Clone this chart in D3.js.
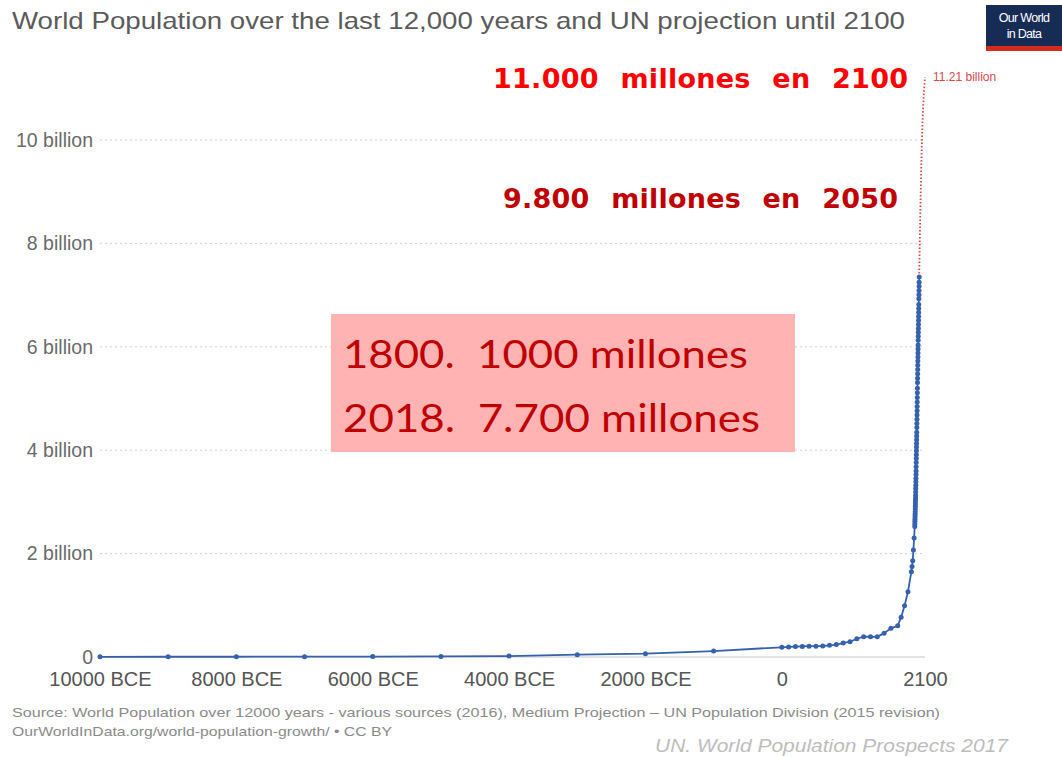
<!DOCTYPE html>
<html><head><meta charset="utf-8">
<script src="https://cdn.jsdelivr.net/npm/d3@7"></script>
<style>body{margin:0;background:#fff;overflow:hidden}</style>
</head><body><svg id="c" width="1062" height="758"></svg>
<script>
// ---- data (population in billions) ----
const histYears = [-10000,-9000,-8000,-7000,-6000,-5000,-4000,-3000,-2000,-1000,
  0,100,200,300,400,500,600,700,800,900,1000,1100,1200,1300,1400,1500,1600,1700,1750,1800,1850,
  1900,1910,1920,1930,1940,
  1950,1951,1952,1953,1954,1955,1956,1957,1958,1959,1960,1961,1962,1963,1964,1965,1966,1967,1968,1969,
  1970,1971,1972,1973,1974,1975,1976,1977,1978,1979,1980,1981,1982,1983,1984,1985,1986,1987,1988,1989,
  1990,1991,1992,1993,1994,1995,1996,1997,1998,1999,2000,2001,2002,2003,2004,2005,2006,2007,2008,2009,
  2010,2011,2012,2013,2014,2015];
const histPop = [0.004,0.005,0.005,0.007,0.009,0.012,0.018,0.045,0.064,0.115,
  0.188,0.195,0.202,0.205,0.209,0.210,0.213,0.226,0.240,0.269,0.295,0.353,0.393,0.392,0.390,0.461,0.554,0.603,0.771,0.990,1.262,
  1.650,1.750,1.860,2.070,2.300,
  2.525,2.572,2.619,2.665,2.713,2.761,2.810,2.861,2.914,2.965,3.018,3.068,3.125,3.190,3.257,3.324,3.392,3.458,3.528,3.600,
  3.682,3.761,3.838,3.913,3.987,4.061,4.132,4.203,4.275,4.349,4.439,4.517,4.598,4.680,4.761,4.846,4.933,5.021,5.110,5.199,
  5.309,5.394,5.478,5.561,5.643,5.723,5.802,5.880,5.957,6.034,6.127,6.204,6.280,6.356,6.432,6.510,6.587,6.664,6.742,6.820,
  6.930,7.009,7.089,7.169,7.248,7.349];
const projYears = [2015,2020,2025,2030,2035,2040,2045,2050,2055,2060,2065,2070,2075,2080,2085,2090,2095,2100];
const projPop = [7.349,7.758,8.142,8.501,8.839,9.157,9.454,9.725,9.968,10.184,10.375,10.547,10.700,10.836,10.952,11.048,11.129,11.213];
const xTicks = [-10000,-8000,-6000,-4000,-2000,0,2100];
const yTicks = [0,2,4,6,8,10];

const svg = d3.select("#c");
const x = d3.scaleLinear().domain([-10000,2100]).range([100,925]);
const y = d3.scaleLinear().domain([0,10]).range([657,140]);

// title
svg.append("text").attr("x",12).attr("y",29)
  .attr("font-family","Liberation Sans, Arial, sans-serif").attr("font-size",24).attr("fill","#5b5b5b")
  .attr("textLength",893).attr("lengthAdjust","spacingAndGlyphs")
  .text("World Population over the last 12,000 years and UN projection until 2100");

// logo
const logo = svg.append("g");
logo.append("rect").attr("x",986).attr("y",5).attr("width",76).attr("height",42).attr("fill","#172c55");
logo.append("rect").attr("x",986).attr("y",46).attr("width",76).attr("height",5).attr("fill","#d42b21");
logo.append("text").attr("x",1024).attr("y",22).attr("text-anchor","middle").attr("font-family","Liberation Sans, Arial, sans-serif")
  .attr("font-size",12.5).attr("fill","#fff").attr("letter-spacing",-0.7).text("Our World");
logo.append("text").attr("x",1024).attr("y",38).attr("text-anchor","middle").attr("font-family","Liberation Sans, Arial, sans-serif")
  .attr("font-size",12.5).attr("fill","#fff").attr("letter-spacing",-0.7).text("in Data");

// grid
const grid = svg.append("g");
grid.selectAll("line").data(yTicks.filter(d=>d>0)).join("line")
  .attr("x1",100).attr("x2",925).attr("y1",d=>y(d)).attr("y2",d=>y(d))
  .attr("stroke","#d0d0d0").attr("stroke-width",1).attr("stroke-dasharray","2,3");
svg.append("line").attr("x1",100).attr("x2",925).attr("y1",y(0)).attr("y2",y(0))
  .attr("stroke","#e2e2e2").attr("stroke-width",2);

// y axis
const yAxis = svg.append("g").attr("transform","translate(93,0)")
  .call(d3.axisLeft(y).tickValues(yTicks).tickSize(0).tickPadding(0)
    .tickFormat(d=> d===0 ? "0" : d+" billion"));
yAxis.select(".domain").remove();
yAxis.selectAll("text").attr("font-family","Liberation Sans, Arial, sans-serif").attr("font-size",19.5).attr("fill","#6a6a6a");

// x axis
const xAxis = svg.append("g").attr("transform","translate(0,672)")
  .call(d3.axisBottom(x).tickValues(xTicks).tickSize(0).tickPadding(0)
    .tickFormat(d=> d<0 ? (-d)+" BCE" : String(d)));
xAxis.select(".domain").remove();
xAxis.selectAll("text").attr("font-family","Liberation Sans, Arial, sans-serif").attr("font-size",20).attr("fill","#555");

// projection (dotted)
const proj = projYears.map((d,i)=>[d,projPop[i]]);
svg.append("path").datum(proj)
  .attr("d", d3.line().x(d=>x(d[0])).y(d=>y(d[1])))
  .attr("fill","none").attr("stroke","#d9464a").attr("stroke-width",1.8).attr("stroke-dasharray","1.5,2");

// historical line
const hist = histYears.map((d,i)=>[d,histPop[i]]);
svg.append("path").datum(hist)
  .attr("d", d3.line().x(d=>x(d[0])).y(d=>y(d[1])))
  .attr("fill","none").attr("stroke","#3561ad").attr("stroke-width",1.8);
svg.append("g").selectAll("circle").data(hist).join("circle")
  .attr("cx",d=>x(d[0])).attr("cy",d=>y(d[1])).attr("r",2.5).attr("fill","#3561ad");

// end label
svg.append("text").attr("x",x(2100)+8).attr("y",y(projPop[projPop.length-1])+4)
  .attr("font-family","Liberation Sans, Arial, sans-serif").attr("font-size",12).attr("fill","#d9464a")
  .text(projPop[projPop.length-1].toFixed(2)+" billion");

// annotations
svg.append("text").attr("x",493).attr("y",88).attr("font-family","DejaVu Sans, Verdana, sans-serif")
  .attr("font-weight","bold").attr("font-size",27).attr("fill","#ff0000")
  .attr("textLength",415).attr("lengthAdjust","spacing").attr("word-spacing",12)
  .text("11.000 millones en 2100");
svg.append("text").attr("x",503).attr("y",208).attr("font-family","DejaVu Sans, Verdana, sans-serif")
  .attr("font-weight","bold").attr("font-size",27).attr("fill","#c00000")
  .attr("textLength",395).attr("lengthAdjust","spacing").attr("word-spacing",12)
  .text("9.800 millones en 2050");

svg.append("rect").attr("x",331).attr("y",314).attr("width",464).attr("height",138).attr("fill","#ffb3b3");
svg.append("text").attr("x",343).attr("y",368).attr("font-family","Lato, Carlito, Calibri, sans-serif")
  .attr("font-size",39).attr("fill","#c00000").attr("textLength",405).attr("lengthAdjust","spacingAndGlyphs")
  .style("white-space","pre").text("1800.  1000 millones");
svg.append("text").attr("x",343).attr("y",432).attr("font-family","Lato, Carlito, Calibri, sans-serif")
  .attr("font-size",39).attr("fill","#c00000").attr("textLength",417).attr("lengthAdjust","spacingAndGlyphs")
  .style("white-space","pre").text("2018.  7.700 millones");

// source
svg.append("text").attr("x",12).attr("y",717).attr("font-family","Liberation Sans, Arial, sans-serif")
  .attr("font-size",13.5).attr("fill","#8a8a8a").attr("textLength",928).attr("lengthAdjust","spacingAndGlyphs")
  .text("Source: World Population over 12000 years - various sources (2016), Medium Projection – UN Population Division (2015 revision)");
svg.append("text").attr("x",12).attr("y",736).attr("font-family","Liberation Sans, Arial, sans-serif")
  .attr("font-size",13.5).attr("fill","#8a8a8a").attr("textLength",380).attr("lengthAdjust","spacingAndGlyphs")
  .text("OurWorldInData.org/world-population-growth/ • CC BY");
svg.append("text").attr("x",655).attr("y",752).attr("font-family","Liberation Sans, Arial, sans-serif")
  .attr("font-style","italic").attr("font-size",19).attr("fill","#bdbdbd").attr("textLength",353).attr("lengthAdjust","spacingAndGlyphs")
  .text("UN. World Population Prospects 2017");
</script>
</body></html>
